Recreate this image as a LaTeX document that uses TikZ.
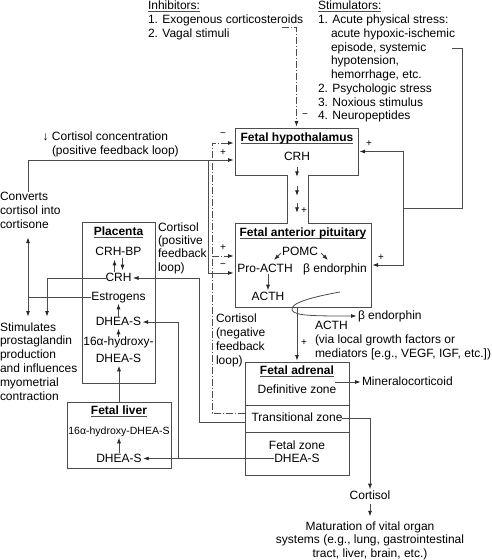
\documentclass[tikz,border=0pt]{standalone}
\usepackage{fontspec}
\setmainfont{Liberation Sans}
\usetikzlibrary{arrows.meta,calc}
\colorlet{lncol}{black!70}
\newcommand\myul[1]{\setbox0\hbox{#1}\rlap{\color{lncol}\rule[-2.2pt]{\wd0}{0.7pt}}\box0}
\begin{document}
\begin{tikzpicture}[x=1pt,y=-1pt,
  every node/.style={inner sep=0pt,outer sep=0pt,font=\fontsize{12}{13.75}\selectfont},
  tx/.style={text height=8.8pt,text depth=1.8pt},
  ml/.style={align=left,anchor=north west},
  ttl/.style={tx,font=\fontsize{12}{13.75}\selectfont\bfseries},
  sgn/.style={font=\fontsize{10}{12}\selectfont},
  wire/.style={draw=lncol,line width=0.8pt},
  con/.style={wire,-{Latex[length=5.5pt,width=4pt,color=black!85]},shorten >=1.5pt},
  dd/.style={dash pattern=on 7pt off 2pt on 1pt off 2pt},
  frm/.style={draw=lncol,line width=0.8pt,rectangle,anchor=north west},
]
\useasboundingbox (0,0) rectangle (492,560);
% ---------- free texts
\node[ml] (inh) at (148,1.3) {\myul{Inhibitors:}\\1. Exogenous corticosteroids\\2. Vagal stimuli};
\node[ml] (stim) at (318,1.3) {\myul{Stimulators:}\\1. Acute physical stress:\\\hspace*{13pt}acute hypoxic-ischemic\\\hspace*{13pt}episode, systemic\\\hspace*{13pt}hypotension,\\\hspace*{13pt}hemorrhage, etc.\\2. Psychologic stress\\3. Noxious stimulus\\4. Neuropeptides};
\node[ml] (cc) at (52,132.3) {\llap{↓ }Cortisol concentration\\(positive feedback loop)};
\node[ml] (conv) at (0,192.3) {Converts\\cortisol into\\cortisone};
\node[ml,font=\fontsize{12}{13.8}\selectfont] (stimu) at (0,322.3) {Stimulates\\prostaglandin\\production\\and influences\\myometrial\\contraction};
\node[ml,font=\fontsize{12}{13.5}\selectfont] (cpos) at (158,222.3) {Cortisol\\(positive\\feedback\\loop)};
\node[ml,font=\fontsize{12}{14}\selectfont] (cneg) at (216,313.3) {Cortisol\\(negative\\feedback\\loop)};
\node[ml,font=\fontsize{12}{14}\selectfont] (acthl) at (315,321.3) {ACTH\\(via local growth factors or\\mediators [e.g., VEGF, IGF, etc.])};
% ---------- hypothalamus / pituitary
\node[anchor=north west,minimum width=123pt,minimum height=47pt] (hyp) at (235,128) {};
\node[anchor=north west,minimum width=136pt,minimum height=84pt] (pit) at (235,223) {};
\draw[wire] (hyp.north west) -- (hyp.north east) -- (hyp.south east) -- (308,175) -- (308,223) -- (pit.north east) -- (pit.south east) -- (pit.south west) -- (pit.north west) -- (287,223) -- (287,175) -- (hyp.south west) -- cycle;
\node[ttl] (hypt) at (297,138) {\myul{Fetal hypothalamus}};
\node[tx] (crh1) at (297,157) {CRH};
\node[ttl] (pitt) at (303,233) {\myul{Fetal anterior pituitary}};
\node[tx] (pomc) at (300,252) {POMC};
\node[tx] (proa) at (265,269) {Pro-ACTH};
\node[tx] (bend) at (335,269) {β endorphin};
\node[tx] (acth) at (268,297) {ACTH};
% ---------- adrenal
\node[frm,minimum width=104pt,minimum height=113pt] (adr) at (245,362) {};
\draw[wire] ($(adr.north west)+(0,43)$) -- ($(adr.north east)+(0,43)$);
\draw[wire] ($(adr.north west)+(0,70)$) -- ($(adr.north east)+(0,70)$);
\node[ttl] (adrt) at (297,371) {\myul{Fetal adrenal}};
\node[tx] (defz) at (297,390) {Definitive zone};
\node[tx] (trans) at (297,418) {Transitional zone};
\node[tx] (fetz) at (297,446) {Fetal zone};
\node[tx] (adrd) at (297,458.5) {DHEA-S};
\node[tx,anchor=west] (mineral) at (362,382) {Mineralocorticoid};
\node[tx] (cort) at (370,496) {Cortisol};
\node[anchor=north,align=center,font=\fontsize{12}{13.5}\selectfont] (mat) at (370,521.3) {Maturation of vital organ\\systems (e.g., lung, gastrointestinal\\tract, liver, brain, etc.)};
\node[tx,anchor=west] (bend2) at (358,316) {β endorphin};
% ---------- placenta
\node[frm,minimum width=73pt,minimum height=161pt] (plac) at (82,222) {};
\node[ttl] (plact) at (118.5,232) {\myul{Placenta}};
\node[tx] (crhbp) at (118.5,252) {CRH-BP};
\node[tx] (crh2) at (118.5,278) {CRH};
\node[tx] (estr) at (118.5,297) {Estrogens};
\node[tx] (dh1) at (118.5,322) {DHEA-S};
\node[tx] (hy1) at (118.5,342) {16α-hydroxy-};
\node[tx] (dh1b) at (118.5,359) {DHEA-S};
% ---------- liver
\node[frm,minimum width=104pt,minimum height=66pt] (liv) at (67,402) {};
\node[ttl] (livt) at (119,411) {\myul{Fetal liver}};
\node[tx,font=\fontsize{10.5}{12}\selectfont] (hy2) at (119,431) {16α-hydroxy-DHEA-S};
\node[tx] (dh2) at (119,458.5) {DHEA-S};
% ---------- signs
\node[sgn] (s1) at (305,116) {−};
\node[sgn] (s2) at (223,135) {−};
\node[sgn] (s3) at (223,153) {+};
\node[sgn] (s4) at (223,248) {+};
\node[sgn] (s5) at (223,266) {−};
\node[sgn] (s6) at (369,144) {+};
\node[sgn] (s7) at (381,258) {+};
\node[sgn] (s8) at (304,211) {+};
\node[sgn] (s9) at (304,343) {+};
% ---------- connectors
\coordinate (inhe) at (282,27);
\draw[con,dd] (inhe) -| (hyp.north);
\coordinate (stime) at (452,48);
\coordinate (sj) at (403,208);
\draw[wire] (stime) -| (462,208) -- (sj);
\draw[con] (sj) |- (hyp.east);
\draw[con] (sj) |- (pit.east);
\coordinate (h1) at ($(hyp.west)+(0,-8.5)$);
\coordinate (h2) at ($(hyp.west)+(0,8.5)$);
\coordinate (p1) at ($(pit.west)+(0,-9)$);
\coordinate (p2) at ($(pit.west)+(0,8)$);
\coordinate (convt) at ($(conv.north west)+(28,0)$);
\draw[con] (convt) |- (h2);
\draw[con] (h2 -| 208,0) |- (p2);
\coordinate (a1) at ($(adr.north west)+(0,51)$);
\coordinate (a2) at ($(adr.north west)+(0,60)$);
\draw[con,dd] (a1) -| (h1 -| 212,0) -- (h1);
\draw[con,dd] (p1 -| 212,0) -- (p1);
\draw[con] (a2) -| (crh2.east -| 199,0) -- (crh2.east);
\draw[con] (adrd.west) -- (dh2.east);
\draw[con] (dh2.east -| 178,0) |- (dh1.east);
\draw[con] (liv.north) -- (liv.north |- dh1b.south);
\draw[con] ($(crh2.north)+(-4,-1)$) -- ($(crhbp.south)+(-4,1)$);
\draw[con] ($(crhbp.south)+(4,1)$) -- ($(crh2.north)+(4,-1)$);
\draw[con] (dh1.north) -- (estr.south);
\draw[con] (hy1.north) -- (dh1.south);
\draw[con] (dh2.north) -- (hy2.south);
\coordinate (ej) at (estr.west -| 28,0);
\coordinate (convb) at (28,236);
\coordinate (st1) at (28,318);
\coordinate (st2) at (47,318);
\draw[wire] (estr.west) -- (ej);
\draw[con] (ej) -- (convb);
\draw[con] (ej) -- (st1);
\draw[con] (crh2.west) -| (st2);
\coordinate (mn) at (335,382);
\draw[con] (mn) -- (mineral.west);
\draw[con] (trans.east) -| (cort.north);
\draw[con,shorten <=3pt,shorten >=5pt] (cort.south) -- (mat.north);
\draw[con] (adr.north |- pit.south) -- (adr.north);
\coordinate (cv) at (340,292);
\draw[con] (cv) .. controls (312,297) and (290,303) .. (292,310) .. controls (294,316) and (315,316) .. (bend2.west);
\draw[con] ($(crh1.south)+(0,5)$) -- ++(0,11);
\draw[con] ($(crh1.south)+(0,24)$) -- ++(0,11);
\draw[con] ($(crh1.south)+(0,41)$) -- ++(0,11);
\draw[con] ($(pomc.west)+(-1,1)$) -- ++(-8,8);
\draw[con] ($(pomc.east)+(3,1)$) -- ++(8,8);
\draw[con] (acth.north |- proa.south) -- (acth.north);
\end{tikzpicture}
\end{document}
